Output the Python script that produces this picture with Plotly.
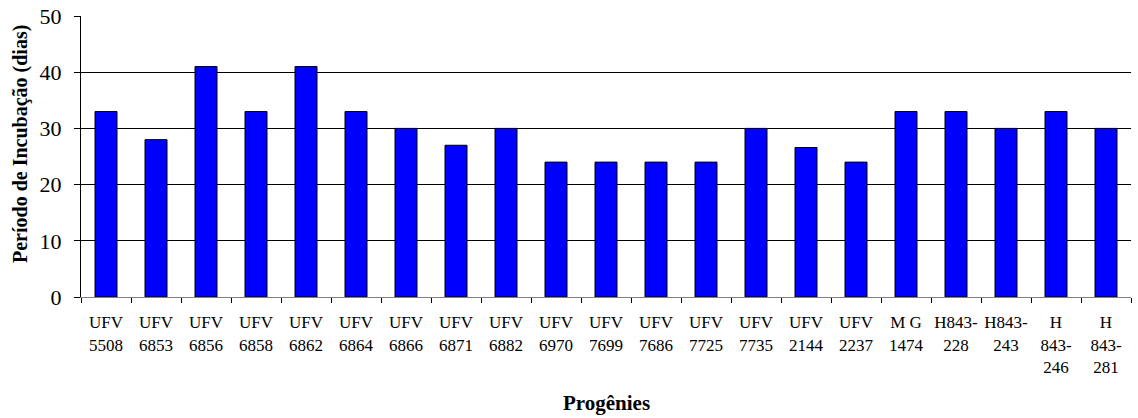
import plotly.graph_objects as go

categories = ["UFV<br>5508", "UFV<br>6853", "UFV<br>6856", "UFV<br>6858", "UFV<br>6862",
              "UFV<br>6864", "UFV<br>6866", "UFV<br>6871", "UFV<br>6882", "UFV<br>6970",
              "UFV<br>7699", "UFV<br>7686", "UFV<br>7725", "UFV<br>7735", "UFV<br>2144",
              "UFV<br>2237", "M G<br>1474", "H843-<br>228", "H843-<br>243", "H<br>843-<br>246",
              "H<br>843-<br>281"]
values = [33, 28, 41, 33, 41, 33, 30, 27, 30, 24, 24, 24, 24, 30, 26.6, 24, 33, 33, 30, 33, 30]
y_ticks = [0, 10, 20, 30, 40, 50]
x_title = "Progênies"
y_title = "Período de Incubação (dias)"

font = "Liberation Serif, Times New Roman, serif"

fig = go.Figure(go.Bar(
    x=categories, y=values,
    marker=dict(color="#0000FF", line=dict(color="black", width=1)),
))

fig.update_layout(
    width=1138, height=418,
    margin=dict(l=81, r=7, t=16, b=121, autoexpand=False),
    paper_bgcolor="white", plot_bgcolor="white",
    bargap=0.56,
    showlegend=False,
    font=dict(family=font, color="black"),
    xaxis=dict(
        automargin=False,
        tickson="boundaries", ticks="outside", ticklen=5, tickcolor="black",
        showline=True, linecolor="#808080", linewidth=1,
        tickfont=dict(size=17, family=font),
        tickangle=0, ticklabelstandoff=10,
    ),
    yaxis=dict(
        automargin=False,
        range=[0, 50], tickvals=y_ticks, ticks="outside", ticklen=6, tickcolor="black",
        showline=True, linecolor="black", linewidth=1,
        showgrid=True, gridcolor="black", gridwidth=1,
        zeroline=False,
        tickfont=dict(size=22, family=font),
        ticklabelstandoff=8,
    ),
    annotations=[
        dict(text="<b>" + x_title + "</b>", xref="paper", yref="paper",
             x=0.5, y=-(403 - 297) / 281, xanchor="center", yanchor="middle",
             showarrow=False, font=dict(size=21, family=font)),
        dict(text="<b>" + y_title + "</b>", xref="paper", yref="paper",
             x=(20 - 81) / 1050, y=(297 - 144) / 281, xanchor="center", yanchor="middle",
             textangle=-90, showarrow=False, font=dict(size=20, family=font)),
    ],
)

fig.write_html("out.html", config={"displayModeBar": False},
               post_script="document.body.style.margin='0';document.body.style.overflow='hidden';")
